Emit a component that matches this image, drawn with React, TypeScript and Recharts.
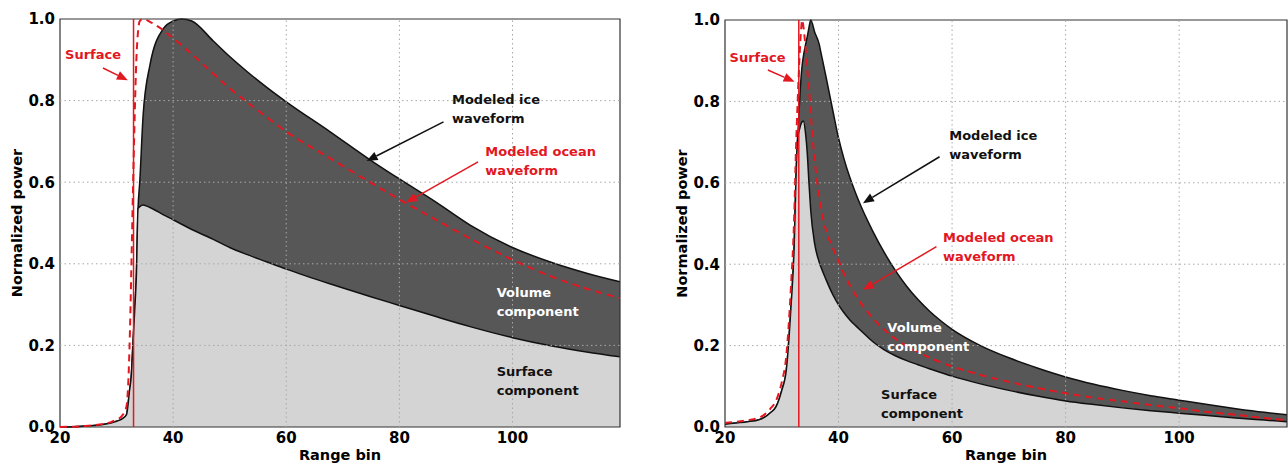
import React from "react"
import { ComposedChart, Area, Line, XAxis, YAxis, ReferenceLine, ReferenceArea, ReferenceDot } from "recharts"

// axis ticks shared by both panels
const xTicks = [20, 40, 60, 80, 100]
const yTicks = [0, 0.2, 0.4, 0.6, 0.8, 1.0]
const surfaceBin = 33

// left panel (slow decay)
const leftBins = [20, 24, 27, 29, 30, 31, 31.75, 32.3, 32.6, 32.9, 33.2, 33.5, 33.8, 34.1, 34.7, 35.9, 38.3, 40, 41.5, 43.3, 47.1, 50, 53, 56.5, 60, 67.7, 74.8, 80, 86.6, 92.5, 100, 107.2, 113.1, 119]
const leftIce = [0, 0.002, 0.005, 0.01, 0.014, 0.02, 0.03, 0.09, 0.125, 0.205, 0.285, 0.37, 0.536, 0.601, 0.765, 0.887, 0.977, 0.995, 1.0, 0.995, 0.946, 0.908, 0.872, 0.833, 0.797, 0.724, 0.655, 0.608, 0.55, 0.495, 0.44, 0.402, 0.377, 0.356]
const leftSurface = [0, 0.002, 0.005, 0.01, 0.014, 0.02, 0.03, 0.09, 0.125, 0.205, 0.285, 0.37, 0.536, 0.54, 0.544, 0.538, 0.52, 0.508, 0.497, 0.484, 0.46, 0.44, 0.423, 0.405, 0.387, 0.351, 0.32, 0.298, 0.27, 0.246, 0.219, 0.198, 0.184, 0.172]
const leftOcean = [0, 0.002, 0.006, 0.012, 0.018, 0.028, 0.05, 0.2, 0.38, 0.58, 0.76, 0.9, 0.97, 0.995, 1.0, 0.993, 0.972, 0.953, 0.936, 0.914, 0.866, 0.83, 0.797, 0.76, 0.724, 0.659, 0.6, 0.558, 0.507, 0.462, 0.41, 0.367, 0.339, 0.316]

// right panel (fast decay)
const rightBins = [20, 22, 24, 26, 27, 28, 29, 30, 30.8, 31.6, 32.2, 32.5, 32.8, 33.1, 33.4, 33.6, 33.8, 34.2, 34.5, 34.8, 35.1, 35.8, 36.6, 36.9, 37.8, 39, 40, 41, 42, 43, 44, 46, 48, 50, 52, 54, 56, 58, 60, 65, 70, 75, 80, 85, 90, 95, 100, 105, 110, 115, 119]
const rightIce = [0.007, 0.01, 0.013, 0.018, 0.024, 0.035, 0.05, 0.09, 0.14, 0.29, 0.45, 0.61, 0.71, 0.79, 0.859, 0.89, 0.91, 0.94, 0.96, 0.982, 1.0, 0.97, 0.94, 0.92, 0.86, 0.777, 0.71, 0.657, 0.613, 0.575, 0.541, 0.482, 0.43, 0.385, 0.346, 0.313, 0.285, 0.261, 0.24, 0.2, 0.17, 0.145, 0.123, 0.105, 0.09, 0.077, 0.066, 0.055, 0.045, 0.036, 0.03]
const rightSurface = [0.007, 0.01, 0.013, 0.018, 0.024, 0.035, 0.05, 0.09, 0.14, 0.29, 0.45, 0.61, 0.71, 0.73, 0.745, 0.75, 0.752, 0.72, 0.671, 0.597, 0.532, 0.45, 0.405, 0.393, 0.362, 0.325, 0.3, 0.28, 0.263, 0.249, 0.236, 0.21, 0.19, 0.175, 0.163, 0.153, 0.143, 0.134, 0.125, 0.106, 0.09, 0.076, 0.064, 0.055, 0.047, 0.04, 0.034, 0.028, 0.022, 0.017, 0.013]
const rightOcean = [0.01, 0.013, 0.017, 0.023, 0.031, 0.045, 0.065, 0.11, 0.175, 0.34, 0.52, 0.68, 0.8, 0.9, 0.975, 1.0, 0.985, 0.93, 0.875, 0.83, 0.77, 0.655, 0.565, 0.54, 0.483, 0.44, 0.408, 0.375, 0.348, 0.324, 0.303, 0.268, 0.24, 0.217, 0.199, 0.184, 0.171, 0.159, 0.149, 0.128, 0.111, 0.096, 0.083, 0.072, 0.063, 0.054, 0.046, 0.037, 0.03, 0.022, 0.017]

const RED = "#e3171f"
const FONT = "'DejaVu Sans', sans-serif"

// annotations, in data units
const leftNotes = [
  { x: 20.9, y: 0.913, lines: ["Surface"], color: RED },
  { x: 89.3, y: 0.804, lines: ["Modeled ice", "waveform"], color: "#111" },
  { x: 95.2, y: 0.676, lines: ["Modeled ocean", "waveform"], color: RED },
  { x: 97.2, y: 0.332, lines: ["Volume", "component"], color: "#fff" },
  { x: 97.2, y: 0.138, lines: ["Surface", "component"], color: "#111" },
]
const leftArrows = [
  { x1: 27.6, y1: 0.88, x2: 32.0, y2: 0.85, color: RED },
  { x1: 87.8, y1: 0.748, x2: 74.2, y2: 0.652, color: "#111" },
  { x1: 93.9, y1: 0.65, x2: 81.2, y2: 0.55, color: RED },
]
const rightNotes = [
  { x: 20.8, y: 0.91, lines: ["Surface"], color: RED },
  { x: 59.5, y: 0.717, lines: ["Modeled ice", "waveform"], color: "#111" },
  { x: 58.4, y: 0.466, lines: ["Modeled ocean", "waveform"], color: RED },
  { x: 48.6, y: 0.246, lines: ["Volume", "component"], color: "#fff" },
  { x: 47.5, y: 0.08, lines: ["Surface", "component"], color: "#111" },
]
const rightArrows = [
  { x1: 27.55, y1: 0.877, x2: 32.26, y2: 0.848, color: RED },
  { x1: 57.8, y1: 0.664, x2: 44.3, y2: 0.55, color: "#111" },
  { x1: 57.25, y1: 0.443, x2: 44.3, y2: 0.337, color: RED },
]

function ArrowShape(props) {
  const { x1, y1, x2, y2, color } = props
  const dx = x2 - x1
  const dy = y2 - y1
  const len = Math.hypot(dx, dy) || 1
  const ux = dx / len
  const uy = dy / len
  const head = 11
  const half = 4.5
  const bx = x2 - ux * head
  const by = y2 - uy * head
  const pts = `${x2},${y2} ${bx - uy * half},${by + ux * half} ${bx + uy * half},${by - ux * half}`
  return (
    <g>
      <line x1={x1} y1={y1} x2={bx} y2={by} stroke={color} strokeWidth={1.5} />
      <polygon points={pts} fill={color} />
    </g>
  )
}

function NoteShape({ cx, cy, lines, color }) {
  return (
    <text x={cx} y={cy} fill={color} fontSize={13} fontWeight="bold" fontFamily={FONT} dominantBaseline="central">
      {lines.map((l, i) => (
        <tspan key={i} x={cx} dy={i === 0 ? 0 : 19}>
          {l}
        </tspan>
      ))}
    </text>
  )
}

function Panel({ bins, ice, surface, ocean, notes, arrows, width, top, right, yWidth, yLabelX }) {
  const data = bins.map((x, i) => ({ x, ice: ice[i], surface: surface[i], ocean: ocean[i] }))
  const tickStyle = { fontSize: 15, fontWeight: "bold", fill: "#000", fontFamily: FONT }
  const labelStyle = { fontSize: 14.5, fontWeight: "bold", fill: "#000", fontFamily: FONT }

  return (
    <ComposedChart width={width} height={464} data={data} margin={{ top, right, bottom: 0, left: 0 }}>
      <XAxis
        dataKey="x"
        type="number"
        domain={[20, 119]}
        ticks={xTicks}
        interval={0}
        allowDataOverflow
        axisLine={false}
        tickLine={false}
        tickSize={0}
        tickMargin={5}
        height={37}
        tick={tickStyle}
        label={{ value: "Range bin", position: "insideBottom", offset: 4, style: labelStyle }}
      />
      <YAxis
        type="number"
        domain={[0, 1]}
        ticks={yTicks}
        interval={0}
        axisLine={false}
        tickLine={false}
        tickSize={0}
        tickMargin={5}
        width={yWidth}
        tick={tickStyle}
        tickFormatter={(v) => v.toFixed(1)}
        label={{ value: "Normalized power", angle: -90, position: "insideLeft", offset: yLabelX, style: { ...labelStyle, textAnchor: "middle" } }}
      />
      <Area
        type="monotone"
        dataKey="ice"
        fill="#575757"
        fillOpacity={1}
        stroke="#111"
        strokeWidth={1.5}
        dot={false}
        activeDot={false}
        isAnimationActive={false}
      />
      <Area
        type="monotone"
        dataKey="surface"
        fill="#d4d4d4"
        fillOpacity={1}
        stroke="#111"
        strokeWidth={1.5}
        dot={false}
        activeDot={false}
        isAnimationActive={false}
      />
      {xTicks.slice(1).map((t) => (
        <ReferenceLine key={"gx" + t} x={t} stroke="#a8a8a8" strokeDasharray="1.5 3" />
      ))}
      {yTicks.slice(1, -1).map((t) => (
        <ReferenceLine key={"gy" + t} y={t} stroke="#a8a8a8" strokeDasharray="1.5 3" />
      ))}
      <Line
        type="monotone"
        dataKey="ocean"
        stroke={RED}
        strokeWidth={2}
        strokeDasharray="7 5"
        dot={false}
        activeDot={false}
        isAnimationActive={false}
      />
      <ReferenceLine x={surfaceBin} stroke={RED} strokeWidth={1.5} />
      <ReferenceArea x1={20} x2={119} y1={0} y2={1} fill="none" fillOpacity={0} stroke="#333" strokeWidth={1.2} />
      {arrows.map((a, i) => (
        <ReferenceLine
          key={"a" + i}
          segment={[
            { x: a.x1, y: a.y1 },
            { x: a.x2, y: a.y2 },
          ]}
          shape={(p) => <ArrowShape {...p} color={a.color} />}
        />
      ))}
      {notes.map((n, i) => (
        <ReferenceDot
          key={"n" + i}
          x={n.x}
          y={n.y}
          r={1}
          shape={(p) => <NoteShape cx={p.cx} cy={p.cy} lines={n.lines} color={n.color} />}
        />
      ))}
    </ComposedChart>
  )
}

export default function App() {
  return (
    <div style={{ position: "absolute", left: 0, top: 0, width: 1288, height: 464, background: "#fff", fontFamily: FONT }}>
      <div style={{ position: "absolute", left: 0, top: 0 }}>
        <Panel
          bins={leftBins}
          ice={leftIce}
          surface={leftSurface}
          ocean={leftOcean}
          notes={leftNotes}
          arrows={leftArrows}
          width={640}
          top={19}
          right={20}
          yWidth={60}
          yLabelX={17}
        />
      </div>
      <div style={{ position: "absolute", left: 644, top: 0 }}>
        <Panel
          bins={rightBins}
          ice={rightIce}
          surface={rightSurface}
          ocean={rightOcean}
          notes={rightNotes}
          arrows={rightArrows}
          width={644}
          top={20}
          right={1}
          yWidth={81}
          yLabelX={38}
        />
      </div>
    </div>
  )
}
